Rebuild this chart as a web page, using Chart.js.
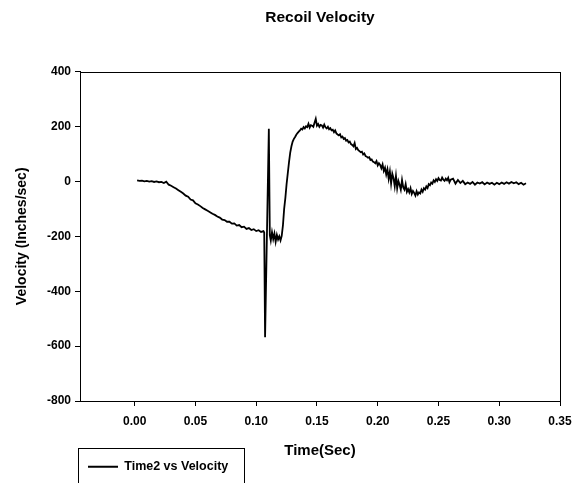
<!DOCTYPE html>
<html>
<head>
<meta charset="utf-8">
<title>Recoil Velocity</title>
<script src="https://cdn.jsdelivr.net/npm/chart.js@4.4.1/dist/chart.umd.min.js"></script>
<style>
  html, body { margin: 0; padding: 0; background: #fff; }
  #wrap { position: relative; width: 587px; height: 483px; }
</style>
</head>
<body>
<div id="wrap"><canvas id="recoil"></canvas></div>
<script>
// data (time in sec, velocity in inches/sec)
const timeSec = [
  0.002, 0.004, 0.006, 0.008, 0.010, 0.012, 0.014, 0.016, 0.018, 0.020,
  0.022, 0.024, 0.026, 0.028, 0.030, 0.032, 0.034, 0.036, 0.038, 0.040,
  0.042, 0.044, 0.046, 0.048, 0.050, 0.052, 0.054, 0.056, 0.058, 0.060,
  0.062, 0.064, 0.066, 0.068, 0.070, 0.072, 0.074, 0.076, 0.078, 0.080,
  0.082, 0.084, 0.086, 0.088, 0.090, 0.092, 0.094, 0.096, 0.098, 0.100,
  0.102, 0.104, 0.106, 0.1066, 0.1073, 0.1104, 0.1112, 0.112, 0.113, 0.114,
  0.115, 0.116, 0.117, 0.118, 0.119, 0.120, 0.121, 0.122, 0.123, 0.124,
  0.125, 0.126, 0.127, 0.128, 0.129,
  0.130, 0.131, 0.132, 0.133, 0.134, 0.135, 0.136, 0.137, 0.138, 0.139,
  0.140, 0.141, 0.142, 0.143, 0.144, 0.145, 0.146, 0.147, 0.148, 0.149,
  0.150, 0.151, 0.152, 0.153, 0.154, 0.155, 0.156, 0.157, 0.158, 0.159,
  0.160, 0.161, 0.162, 0.163, 0.164, 0.165, 0.166, 0.167, 0.168, 0.169,
  0.170, 0.171, 0.172, 0.173, 0.174, 0.175, 0.176, 0.177, 0.178, 0.179,
  0.180, 0.181, 0.182, 0.183, 0.184, 0.185, 0.186, 0.187, 0.188, 0.189,
  0.190, 0.191, 0.192, 0.193, 0.194, 0.195, 0.196, 0.197, 0.198, 0.199,
  0.200, 0.201, 0.202, 0.203, 0.204, 0.205, 0.206, 0.207, 0.208, 0.209,
  0.210, 0.211, 0.212, 0.213, 0.214, 0.215, 0.216, 0.217, 0.218, 0.219,
  0.220, 0.221, 0.222, 0.223, 0.224, 0.225, 0.226, 0.227, 0.228, 0.229,
  0.230, 0.231, 0.232, 0.233, 0.234, 0.235, 0.236, 0.237, 0.238, 0.239,
  0.240, 0.241, 0.242, 0.243, 0.244, 0.245, 0.246, 0.247, 0.248, 0.249,
  0.250, 0.251, 0.252, 0.253, 0.254, 0.255, 0.256, 0.257, 0.258, 0.259,
  0.260, 0.262, 0.264, 0.266, 0.268, 0.270, 0.272, 0.274, 0.276, 0.278,
  0.280, 0.282, 0.284, 0.286, 0.288, 0.290, 0.292, 0.294, 0.296, 0.298,
  0.300, 0.302, 0.304, 0.306, 0.308, 0.310, 0.312, 0.314, 0.316, 0.318,
  0.320, 0.322
];
const velocity = [
  4, 2, 3, 0, 2, -1, 1, -2, 0, -3,
  -2, -6, -1, -12, -16, -21, -26, -32, -38, -44,
  -52, -56, -66, -69, -80, -84, -90, -97, -102, -107,
  -112, -118, -122, -128, -132, -139, -141, -147, -147, -154,
  -153, -161, -159, -167, -165, -173, -170, -177, -174, -181,
  -178, -184, -181, -186, -568, 192, -196, -215, -185, -210,
  -190, -220, -195, -212, -200, -215, -198, -160, -100, -60,
  -10, 30, 70, 105, 128,
  145, 155, 162, 170, 176, 181, 186, 192, 189, 198,
  193, 201, 198, 210, 196, 205, 203, 199, 214, 228,
  203, 209, 199, 206, 204, 196, 207, 197, 193, 199,
  190, 194, 186, 188, 179, 186, 175, 171, 168, 172,
  160, 163, 155, 158, 148, 151, 142, 145, 136, 133,
  128, 140, 118, 122, 114, 110, 106, 108, 98, 102,
  92, 90, 86, 88, 78, 80, 72, 70, 66, 74,
  58, 66, 60, 48, 62, 38, 50, 25, 44, 10,
  36, -8, 28, 12, -18, 20, -25, 2, -12, -30,
  5, -22, -30, -10, -38, -28, -40, -25, -46, -35,
  -42, -52, -36, -48, -40, -44, -30, -38, -25, -30,
  -18, -24, -10, -14, -4, -8, 4, -2, 8, 2,
  12, 5, 3, 14, 6, 2, 10, 4, 13, -3,
  6, 10, -8, 5, -6, 2, -10, -4, -9, -2,
  -12, -4, -8, -3, -11, -4, -9, -5, -12, -5,
  -10, -4, -9, -3, -8, -2, -7, -3, -10, -5,
  -12, -7
];
const seriesName = "Time2 vs Velocity";
const xTicks = [0.00, 0.05, 0.10, 0.15, 0.20, 0.25, 0.30, 0.35];
const yTicks = [400, 200, 0, -200, -400, -600, -800];

const FONT = "'Liberation Sans', Arial, Helvetica, sans-serif";

// frame round the plot + box round the legend
const framePlugin = {
  id: "frame",
  afterDraw(chart) {
    const ctx = chart.ctx;
    const a = chart.chartArea;
    ctx.save();
    ctx.strokeStyle = "#000";
    ctx.lineWidth = 1;
    ctx.strokeRect(Math.round(a.left) + 0.5, Math.round(a.top) + 0.5,
                   Math.round(a.right - a.left), Math.round(a.bottom - a.top));
    const hb = chart.legend.legendHitBoxes[0];
    if (hb) {
      ctx.strokeRect(Math.round(hb.left - 10) + 0.5, Math.round(hb.top - 13) + 0.5,
                     Math.round(hb.width + 26), 40);
    }
    ctx.restore();
  }
};

const ctx = document.getElementById("recoil");

new Chart(ctx, {
  type: "line",
  data: {
    datasets: [{
      label: seriesName,
      data: timeSec.map((t, i) => ({ x: t, y: velocity[i] })),
      borderColor: "#000",
      backgroundColor: "#000",
      borderWidth: 1.8,
      pointRadius: 0,
      tension: 0,
      fill: false
    }]
  },
  options: {
    responsive: true,
    maintainAspectRatio: false,
    animation: false,
    layout: { padding: { left: 0, right: 27, top: 0, bottom: 0 } },
    plugins: {
      title: {
        display: true,
        fullSize: false,
        text: "Recoil Velocity",
        color: "#000",
        font: { family: FONT, size: 15.5, weight: "bold" },
        padding: { top: 8, bottom: 45 }
      },
      legend: {
        position: "bottom",
        align: "start",
        fullSize: false,
        labels: {
          color: "#000",
          font: { family: FONT, size: 12.5, weight: "bold" },
          usePointStyle: true,
          pointStyle: "line",
          pointStyleWidth: 30,
          boxWidth: 30,
          padding: 8
        }
      },
      tooltip: { enabled: false }
    },
    scales: {
      x: {
        type: "linear",
        min: -0.045,
        max: 0.35,
        afterBuildTicks: (scale) => { scale.ticks = xTicks.map(v => ({ value: v })); },
        afterFit: (scale) => { scale.height = 51.5; },
        grid: { drawOnChartArea: false, drawTicks: true, tickLength: 5, color: "#000" },
        border: { color: "#000", width: 1 },
        ticks: {
          color: "#000",
          padding: 8,
          maxRotation: 0,
          font: { family: FONT, size: 12, weight: "bold" },
          callback: (v) => Number(v).toFixed(2)
        },
        title: {
          display: true,
          text: "Time(Sec)",
          color: "#000",
          font: { family: FONT, size: 15, weight: "bold" },
          padding: { top: 0, bottom: -7.5 }
        }
      },
      y: {
        min: -800,
        max: 400,
        afterBuildTicks: (scale) => { scale.ticks = yTicks.map(v => ({ value: v })); },
        afterFit: (scale) => { scale.width = 80; },
        grid: { drawOnChartArea: false, drawTicks: true, tickLength: 5, color: "#000" },
        border: { color: "#000", width: 1 },
        ticks: {
          color: "#000",
          padding: 4,
          font: { family: FONT, size: 12, weight: "bold" }
        },
        title: {
          display: true,
          text: "Velocity (Inches/sec)",
          color: "#000",
          font: { family: FONT, size: 14, weight: "bold" },
          padding: { top: 14, bottom: 0 }
        }
      }
    }
  },
  plugins: [framePlugin]
});
</script>
</body>
</html>
